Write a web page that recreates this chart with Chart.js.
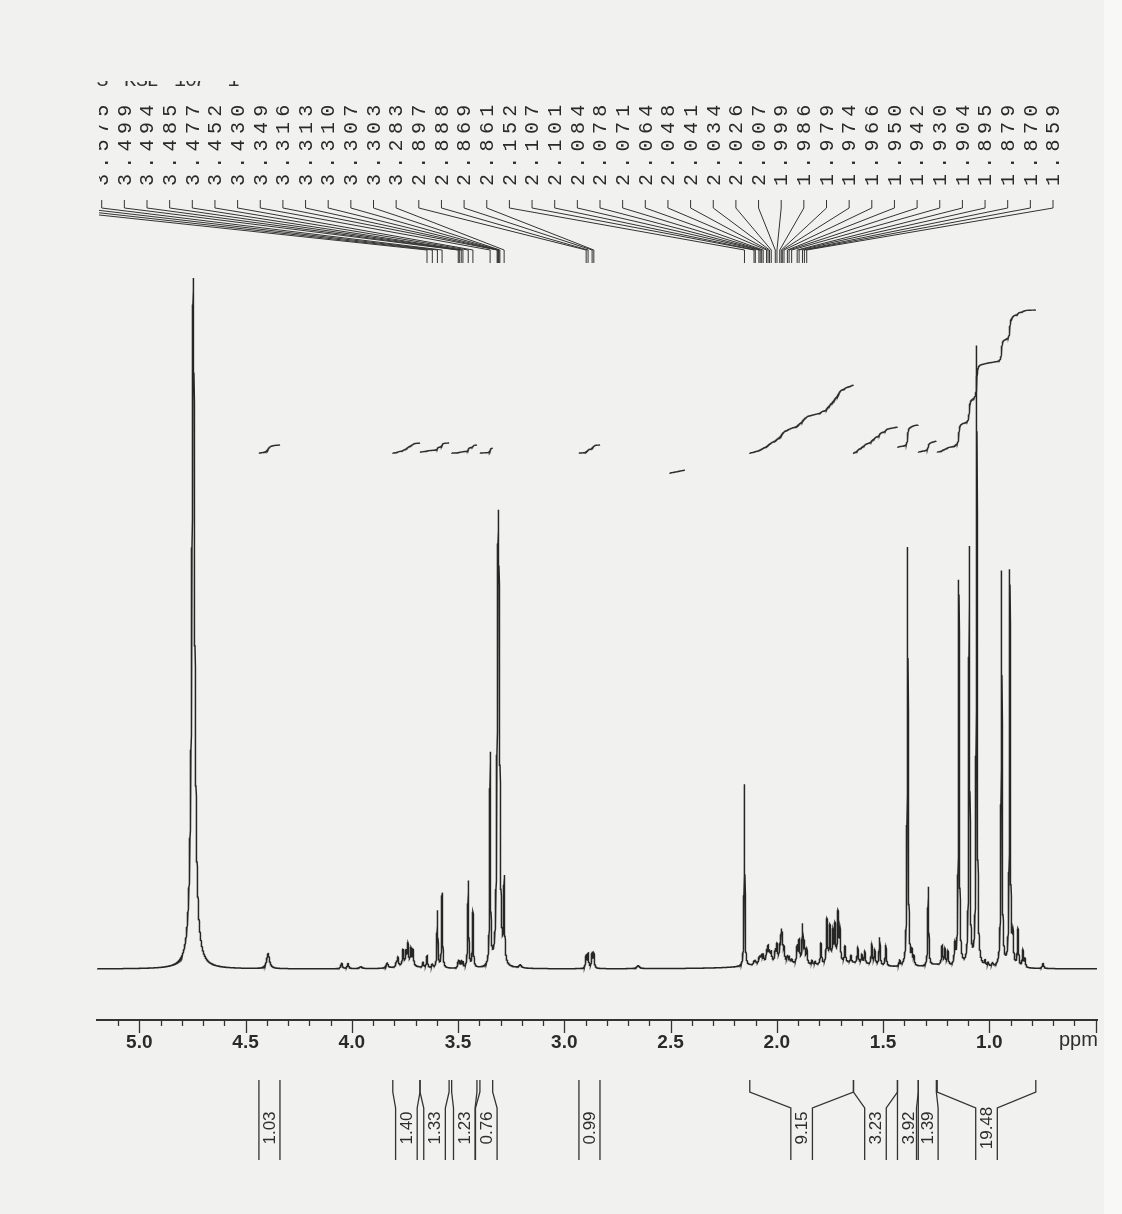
<!DOCTYPE html>
<html><head><meta charset="utf-8">
<script src="https://cdn.jsdelivr.net/npm/chart.js@4.4.1/dist/chart.umd.min.js"></script>
<style>html,body{margin:0;padding:0;background:#f1f1ef;}canvas{display:block;}</style>
</head><body>
<canvas id="c" width="1122" height="1214" style="width:1122px;height:1214px"></canvas>
<script>
// ---------- data ----------
const ppmMin = 0.493, ppmMax = 5.199;
const tickLabels = ['5.0','4.5','4.0','3.5','3.0','2.5','2.0','1.5','1.0'];
const axisUnit = 'ppm';
const titleChars = ['S','K','S','L','1','0','7','1'];

// peak-picking labels (first three are cut off by the page edge)
const peakLabels = ['3.646','3.621','3.597','3.575','3.499','3.494','3.485','3.477','3.452','3.430','3.349',
 '3.316','3.313','3.310','3.307','3.303','3.283','2.897','2.888','2.869','2.861','2.152',
 '2.107','2.101','2.084','2.078','2.071','2.064','2.048','2.041','2.034','2.026','2.007',
 '1.999','1.986','1.979','1.974','1.966','1.950','1.942','1.930','1.904','1.895','1.879','1.870','1.859'];
const cutLabels = 3;

// peaks: position (ppm), height, half width (ppm)
const peakPpm = [
 4.746, 4.394, 4.048, 4.018, 3.958, 3.834,
 3.790, 3.783, 3.759, 3.745, 3.736, 3.722, 3.712, 3.665, 3.646, 3.621, 3.597, 3.575,
 3.499, 3.494, 3.485, 3.477, 3.452, 3.430, 3.349, 3.316, 3.313, 3.310, 3.307, 3.303, 3.283,
 3.208, 2.897, 2.888, 2.869, 2.861, 2.653, 2.152,
 2.107, 2.101, 2.084, 2.078, 2.071, 2.064, 2.048, 2.041, 2.034, 2.026, 2.007, 1.999, 1.986, 1.979, 1.974, 1.966, 1.950, 1.942, 1.930, 1.904, 1.895, 1.879, 1.870, 1.859,
 1.835, 1.820, 1.792, 1.764, 1.750, 1.736, 1.726, 1.712, 1.703, 1.679,
 1.651, 1.619, 1.600, 1.586, 1.553, 1.539, 1.516, 1.487,
 1.422, 1.384, 1.364, 1.355, 1.287, 1.222, 1.209, 1.195, 1.162, 1.143, 1.094, 1.059, 1.020, 1.005, 0.985,
 0.942, 0.903, 0.889, 0.865, 0.842, 0.832, 0.747,
 2.000, 1.650, 1.250, 3.740];
const peakHeight = [
 691, 15, 6, 5, 2, 5,
 5, 9, 15, 12, 20, 16, 15, 5, 12, 4, 57, 75,
 7, 6, 7, 5, 87, 55, 211, 80, 159, 238, 159, 80, 81,
 3, 13, 14, 15, 14, 3, 182,
 3, 4, 5, 6, 7, 8, 11, 14, 9, 10, 11, 16, 12, 25, 21, 12, 6, 5, 4, 17, 22, 38, 20, 15,
 4, 3, 21, 44, 36, 30, 36, 48, 32, 16,
 7, 16, 9, 13, 21, 15, 28, 21,
 6, 420, 12, 8, 79, 19, 16, 14, 19, 386, 418, 620, 5, 4, 4,
 396, 396, 28, 37, 17, 8, 5,
 6, 5, 3, 4];
const peakHalfWidth = [
 0.0075, 0.008, 0.004, 0.004, 0.008, 0.006,
 0.003, 0.003, 0.003, 0.003, 0.003, 0.003, 0.003, 0.003, 0.003, 0.003, 0.0025, 0.0025,
 0.0025, 0.0025, 0.0025, 0.0025, 0.0025, 0.0025, 0.0022, 0.0035, 0.0035, 0.0035, 0.0035, 0.0035, 0.0025,
 0.008, 0.003, 0.003, 0.003, 0.003, 0.008, 0.002,
 0.003, 0.003, 0.003, 0.003, 0.003, 0.003, 0.003, 0.003, 0.003, 0.003, 0.003, 0.003, 0.003, 0.003, 0.003, 0.003, 0.003, 0.003, 0.003, 0.003, 0.003, 0.003, 0.003, 0.003,
 0.003, 0.003, 0.003, 0.003, 0.003, 0.003, 0.003, 0.003, 0.003, 0.003,
 0.003, 0.003, 0.003, 0.003, 0.003, 0.003, 0.003, 0.003,
 0.003, 0.0025, 0.003, 0.003, 0.0025, 0.003, 0.003, 0.003, 0.003, 0.0025, 0.0025, 0.0025, 0.003, 0.003, 0.003,
 0.0025, 0.0025, 0.003, 0.003, 0.003, 0.003, 0.004,
 0.12, 0.12, 0.05, 0.04];

// integral regions (ppm), trace start/end levels, printed values
const intFrom  = [4.437, 3.807, 3.679, 3.530, 3.397, 2.931, 2.503, 2.127, 1.639, 1.432, 1.334, 1.245];
const intTo    = [4.338, 3.679, 3.542, 3.411, 3.337, 2.832, 2.433, 1.639, 1.432, 1.334, 1.249, 0.781];
const intStart = [516, 516, 517, 516, 516, 516, 496, 516, 516, 522, 517, 517];
const intEnd   = [524, 526, 526, 524, 521, 524, 499, 584, 542, 544, 528, 659];
const intLabels= ['1.03','1.40','1.33','1.23','0.76','0.99', null, '9.15','3.23','3.92','1.39','19.48'];

// ---------- build line traces from the peak list ----------
const step = 0.0005;
const xsDesc = [], ysDesc = [];
for (let i = 0; ; i++) {
  const p = ppmMax - i * step;
  if (p < ppmMin) break;
  let s = 0;
  for (let k = 0; k < peakPpm.length; k++) {
    const d = (p - peakPpm[k]) / peakHalfWidth[k];
    s += peakHeight[k] / (1 + d * d);
  }
  xsDesc.push(p); ysDesc.push(s);
}
const spectrum = xsDesc.map((x, i) => ({x, y: ysDesc[i]})).reverse();

const integralSets = intFrom.map((a, r) => {
  const b = intTo[r];
  const idx = [];
  for (let i = 0; i < xsDesc.length; i++) if (xsDesc[i] <= a && xsDesc[i] >= b) idx.push(i);
  let tot = 0; idx.forEach(i => tot += ysDesc[i]);
  let cum = 0; const pts = [];
  idx.forEach(i => { cum += ysDesc[i]; pts.push({x: xsDesc[i], y: intStart[r] + (intEnd[r] - intStart[r]) * cum / tot}); });
  return {data: pts.reverse(), borderColor: '#2e2e2e', borderWidth: 1.4, pointRadius: 0, tension: 0};
});

// ---------- plugins ----------
const bgPlugin = {
  id: 'bg',
  beforeDraw(chart) {
    const c = chart.ctx;
    c.save();
    c.fillStyle = '#f1f1ef'; c.fillRect(0, 0, chart.width, chart.height);
    c.fillStyle = '#f8f8f7'; c.fillRect(1104, 0, chart.width - 1104, chart.height);
    c.restore();
  }
};

const annotPlugin = {
  id: 'annot',
  afterDraw(chart) {
    const c = chart.ctx, sx = chart.scales.x, area = chart.chartArea;
    c.save();
    // axis ticks
    c.strokeStyle = '#333'; c.lineWidth = 1.3;
    for (let t = 5; t <= 51; t++) {
      const v = t / 10;
      if (v < ppmMin || v > ppmMax) continue;
      const px = Math.round(sx.getPixelForValue(v)) + 0.5;
      c.beginPath(); c.moveTo(px, area.bottom); c.lineTo(px, area.bottom + (t % 5 === 0 ? 13 : 6)); c.stroke();
    }
    // unit
    c.fillStyle = '#2e2e2e'; c.font = '20px "Liberation Sans"'; c.textAlign = 'left'; c.textBaseline = 'middle';
    c.fillText(axisUnit, 1059, 1040);

    // cut title at the top (only the lower part of the glyphs shows)
    c.save();
    c.beginPath(); c.rect(0, 81, 1122, 7); c.clip();
    c.font = '20px "Liberation Mono"'; c.fillStyle = '#333'; c.textAlign = 'center'; c.textBaseline = 'alphabetic';
    const tx = [102.5, 130, 142, 152.5, 180, 191, 199.5, 233.5];
    titleChars.forEach((ch, i) => c.fillText(ch, tx[i], 86));
    c.restore();

    // peak labels
    c.save();
    c.beginPath(); c.rect(99, 90, 1023, 180); c.clip();
    c.font = '20px "Liberation Mono"'; c.fillStyle = '#2a2a2a'; c.strokeStyle = '#333'; c.lineWidth = 1;
    c.textAlign = 'center'; c.textBaseline = 'middle';
    peakLabels.forEach((lab, i) => {
      const lx = 101.7 + (i - cutLabels) * 22.65;
      const px = sx.getPixelForValue(parseFloat(lab));
      for (let ch = 0; ch < lab.length; ch++) {
        c.save(); c.translate(lx, 180 - ch * 17.3); c.rotate(-Math.PI / 2); c.fillText(lab[ch], 0, 1); c.restore();
      }
      c.beginPath(); c.moveTo(lx, 200); c.lineTo(lx, 208); c.lineTo(px, 250); c.lineTo(px, 263); c.stroke();
    });
    c.restore();

    // integral brackets
    const yT = 1080, yB1 = 1092, yB2 = 1108, yBot = 1160, hw = 10.8;
    c.strokeStyle = '#333'; c.lineWidth = 1.3;
    const side = (xt, xb) => {
      c.beginPath(); c.moveTo(xt, yT);
      if (Math.abs(xt - xb) < 1.5) c.lineTo(xt, yBot);
      else { c.lineTo(xt, yB1); c.lineTo(xb, yB2); c.lineTo(xb, yBot); }
      c.stroke();
    };
    c.font = '17px "Liberation Sans"'; c.fillStyle = '#2e2e2e'; c.textAlign = 'center'; c.textBaseline = 'middle';
    intLabels.forEach((lab, i) => {
      if (!lab) return;
      const xl = sx.getPixelForValue(intFrom[i]), xr = sx.getPixelForValue(intTo[i]);
      const ctr = (xl + xr) / 2;
      side(xl, ctr - hw); side(xr, ctr + hw);
      c.save(); c.translate(ctr + 1, 1128); c.rotate(-Math.PI / 2); c.fillText(lab, 0, 0); c.restore();
    });
    c.restore();
  }
};

// ---------- chart ----------
new Chart(document.getElementById('c').getContext('2d'), {
  type: 'line',
  data: {datasets: [{data: spectrum, borderColor: '#262626', borderWidth: 1.5, pointRadius: 0, tension: 0}, ...integralSets]},
  options: {
    responsive: false, animation: false, devicePixelRatio: 1, parsing: false, events: [],
    layout: {padding: {left: 97, right: 25, top: 60, bottom: 154}},
    plugins: {legend: {display: false}, tooltip: {enabled: false}},
    scales: {
      x: {
        type: 'linear', reverse: true, min: ppmMin, max: ppmMax,
        afterBuildTicks: s => { s.ticks = tickLabels.map(t => ({value: parseFloat(t)})); },
        afterFit: s => { s.height = 40; },
        grid: {drawOnChartArea: false, drawTicks: false},
        border: {display: true, color: '#333', width: 2},
        ticks: {
          autoSkip: false, maxRotation: 0, padding: 11, color: '#2a2a2a',
          font: {family: 'Liberation Sans', size: 19, weight: 'bold'},
          callback: v => { const t = tickLabels.find(l => Math.abs(parseFloat(l) - v) < 1e-9); return t ?? ''; }
        }
      },
      y: {display: false, min: -51, max: 909}
    }
  },
  plugins: [bgPlugin, annotPlugin]
});
</script>
</body></html>
